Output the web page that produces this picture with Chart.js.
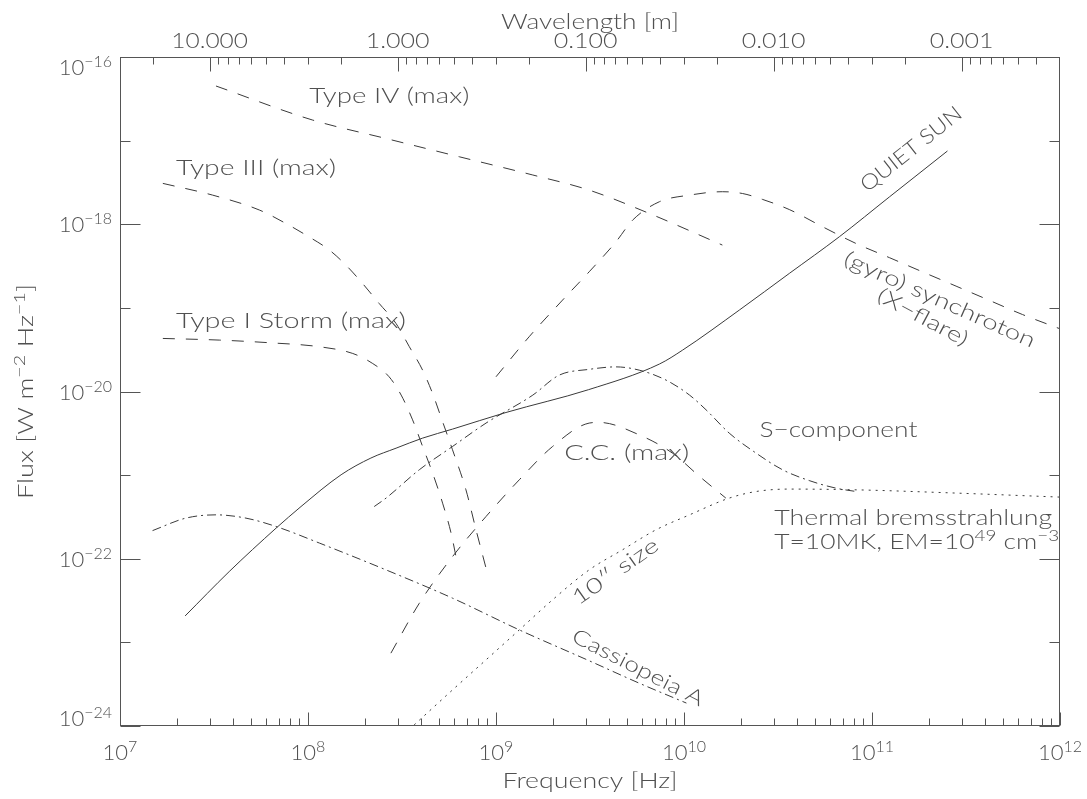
<!DOCTYPE html>
<html>
<head>
<meta charset="utf-8">
<title>Solar radio flux spectrum</title>
<script src="https://cdn.jsdelivr.net/npm/chart.js@4.4.1/dist/chart.umd.min.js"></script>
<style>
  html, body { margin: 0; padding: 0; background: #ffffff; }
  #wrap { width: 1087px; height: 799px; }
</style>
</head>
<body>
<div id="wrap"><canvas id="spectrum" width="1087" height="799"></canvas></div>
<script>
// ---- spectra: frequency [Hz] and flux density [W m^-2 Hz^-1] ----
const quietSunFreq = [2.22e7, 3.81e7, 6.76e7, 9.18e7, 1.50e8, 2.16e8, 2.94e8, 4.07e8, 5.87e8, 1.13e9, 3.10e9, 7.40e9, 9.84e9, 1.97e10, 3.63e10, 6.70e10, 1.24e11, 2.52e11];
const quietSunFlux = [2.07e-23, 7.03e-23, 2.32e-22, 4.21e-22, 1.01e-21, 1.60e-21, 2.10e-21, 2.77e-21, 3.55e-21, 5.61e-21, 1.05e-20, 2.13e-20, 3.13e-20, 9.42e-20, 2.58e-19, 7.08e-19, 2.13e-18, 7.52e-18];

const typeIVFreq = [3.24e7, 1.06e8, 2.60e8, 6.38e8, 1.57e9, 3.13e9, 6.52e9, 1.60e10];
const typeIVFlux = [4.50e-17, 1.76e-17, 1.06e-17, 6.41e-18, 3.88e-18, 2.56e-18, 1.35e-18, 5.64e-19];

const typeIIIFreq = [1.69e7, 3.11e7, 5.51e7, 7.64e7, 9.75e7, 1.30e8, 1.59e8, 1.95e8, 2.39e8, 2.94e8, 3.46e8, 4.07e8, 4.60e8, 5.20e8, 5.87e8, 6.92e8, 7.83e8, 8.85e8];
const typeIIIFlux = [3.08e-18, 2.23e-18, 1.48e-18, 1.02e-18, 7.43e-19, 4.91e-19, 3.25e-19, 1.96e-19, 1.13e-19, 6.50e-20, 3.43e-20, 1.80e-20, 9.46e-21, 4.35e-21, 2.01e-21, 6.67e-22, 2.22e-22, 7.73e-23];

const typeIFreq = [1.69e7, 3.37e7, 6.22e7, 1.15e8, 1.73e8, 2.21e8, 2.70e8, 3.13e8, 3.60e8, 4.07e8, 4.60e8, 5.20e8, 5.77e8, 6.25e8];
const typeIFlux = [4.31e-20, 4.12e-20, 3.83e-20, 3.43e-20, 2.85e-20, 2.16e-20, 1.50e-20, 9.06e-21, 4.58e-21, 2.20e-21, 1.06e-21, 4.62e-22, 2.02e-22, 8.45e-23];

const gyroFreq = [1.00e9, 1.50e9, 2.26e9, 3.13e9, 4.35e9, 5.33e9, 7.40e9, 1.07e10, 1.60e10, 2.05e10, 2.62e10, 3.63e10, 5.46e10, 8.22e10, 1.24e11, 1.86e11, 2.80e11, 4.21e11, 6.32e11, 1.00e12];
const gyroFlux = [1.50e-20, 4.51e-20, 1.24e-19, 2.70e-19, 6.18e-19, 1.12e-18, 1.86e-18, 2.23e-18, 2.45e-18, 2.33e-18, 1.98e-18, 1.50e-18, 9.33e-19, 5.89e-19, 3.98e-19, 2.69e-19, 1.82e-19, 1.23e-19, 8.32e-20, 5.62e-20];

const sComponentFreq = [2.25e8, 2.60e8, 3.91e8, 5.87e8, 8.85e8, 1.57e9, 2.17e9, 3.13e9, 4.35e9, 5.78e9, 8.02e9, 1.07e10, 1.31e10, 1.74e10, 2.42e10, 3.34e10, 4.63e10, 6.44e10, 8.22e10];
const sComponentFlux = [4.21e-22, 5.31e-22, 1.16e-21, 2.20e-21, 4.19e-21, 9.06e-21, 1.57e-20, 1.84e-20, 1.97e-20, 1.80e-20, 1.37e-20, 9.06e-21, 6.04e-21, 3.18e-21, 1.83e-21, 1.16e-21, 8.61e-22, 6.98e-22, 6.37e-22];

const thermalFreq = [3.67e8, 5.87e8, 8.85e8, 1.33e9, 2.00e9, 3.13e9, 4.71e9, 7.10e9, 1.07e10, 1.74e10, 2.42e10, 3.63e10, 8.22e10, 2.80e11, 1.00e12];
const thermalFlux = [1.03e-24, 2.70e-24, 6.18e-24, 1.41e-23, 3.23e-23, 7.36e-23, 1.28e-22, 2.22e-22, 3.35e-22, 5.31e-22, 6.37e-22, 6.81e-22, 6.67e-22, 6.10e-22, 5.46e-22];

const ccFreq = [2.76e8, 3.91e8, 5.87e8, 8.85e8, 1.33e9, 2.00e9, 3.13e9, 3.54e9, 5.78e9, 8.69e9, 1.21e10, 1.67e10];
const ccFlux = [7.43e-24, 2.94e-23, 1.06e-22, 3.20e-22, 8.79e-22, 2.20e-21, 4.19e-21, 4.27e-21, 3.03e-21, 1.83e-21, 9.64e-22, 5.31e-22];

const casAFreq = [1.49e7, 2.24e7, 3.24e7, 4.68e7, 6.76e7, 1.15e8, 2.60e8, 5.87e8, 1.33e9, 3.13e9, 5.78e9, 1.03e10];
const casAFlux = [2.17e-22, 3.06e-22, 3.35e-22, 3.06e-22, 2.43e-22, 1.54e-22, 7.36e-23, 3.38e-23, 1.41e-23, 6.03e-24, 3.25e-24, 1.88e-24];

// ---- axes ----
const SPEED_OF_LIGHT = 2.998e8;                 // m/s
const freqDecades = [7, 8, 9, 10, 11, 12];      // bottom axis, labelled 10^n Hz
const fluxDecades = [-24, -23, -22, -21, -20, -19, -18, -17, -16];
const fluxLabelled = [-24, -22, -20, -18, -16];
const wavelengthTickValues = [10, 1, 0.1, 0.01, 0.001];
const wavelengthTickLabels = ['10.000', '1.000', '0.100', '0.010', '0.001'];

// ---- styling ----
const FONT = '"Lato", "DejaVu Sans", sans-serif';
const TEXT_COLOR = '#505050';
const LINE_COLOR = '#3a3a3a';
const FRAME_COLOR = '#555555';
const DASH = [12, 11];
const DASH_DOT = [9, 4, 2, 4];
const DOTS = [2, 5];

function series(freq, flux) {
  return freq.map((f, i) => ({ x: f, y: flux[i] }));
}
function curve(label, freq, flux, dash) {
  return {
    label,
    data: series(freq, flux),
    showLine: true,
    borderColor: LINE_COLOR,
    borderWidth: 1,
    borderDash: dash,
    pointRadius: 0,
    pointHoverRadius: 0,
    fill: false,
    cubicInterpolationMode: 'monotone'
  };
}

// Annotations, placed in log10(frequency), log10(flux) coordinates
const curveLabels = [
  { parts: [['Type IV (max)', 0]], at: [8.007, -16.547], width: 160 },
  { parts: [['Type III (max)', 0]], at: [7.298, -17.414], width: 160 },
  { parts: [['Type I Storm (max)', 0]], at: [7.298, -19.238], width: 230 },
  { parts: [['QUIET SUN', 0]], at: [10.975, -17.623], width: 123, angle: -38.4 },
  { parts: [['(gyro) synchroton', 0]], at: [10.842, -18.473], width: 207, angle: 24 },
  { parts: [['(X\u2212flare)', 0]], at: [11.018, -18.903], width: 100, angle: 28 },
  { parts: [['S\u2212component', 0]], at: [10.401, -20.542], width: 158 },
  { parts: [['C.C. (max)', 0]], at: [9.363, -20.817], width: 125 },
  { parts: [['Thermal bremsstrahlung', 0]], at: [10.480, -21.594], width: 278 },
  { parts: [['T=10MK, EM=10', 0], ['49', 1], [' cm', 0], ['\u22123', 1]], at: [10.480, -21.888], width: 285 },
  { parts: [['10\u2033 size', 0]], at: [9.438, -22.563], width: 100, angle: -35 },
  { parts: [['Cassiopeia A', 0]], at: [9.395, -22.982], width: 145, angle: 27 }
];

function setFont(ctx, size) { ctx.font = '300 ' + size + 'px ' + FONT; }

// Draws a run of normal / superscript text; optional rotation and fitted width
function drawRich(ctx, parts, x, y, o) {
  const size = o.size || 21, supSize = o.supSize || 15, raise = o.raise || 8;
  ctx.save();
  ctx.translate(x, y);
  if (o.angle) ctx.rotate(o.angle * Math.PI / 180);
  let w = 0;
  const widths = parts.map(([t, s]) => {
    setFont(ctx, s ? supSize : size);
    const m = ctx.measureText(t).width;
    w += m;
    return m;
  });
  const sx = o.width ? o.width / w : (o.stretch || 1);
  const W = w * sx;
  const x0 = o.align === 'center' ? -W / 2 : o.align === 'right' ? -W : 0;
  ctx.translate(x0, 0);
  ctx.scale(sx, 1);
  ctx.fillStyle = o.color || TEXT_COLOR;
  ctx.textAlign = 'left';
  ctx.textBaseline = 'alphabetic';
  let cx = 0;
  parts.forEach(([t, s], i) => {
    setFont(ctx, s ? supSize : size);
    ctx.fillText(t, cx, s ? -raise : 0);
    cx += widths[i];
  });
  ctx.restore();
}

const framePlugin = {
  id: 'frameAndText',
  afterDatasetsDraw(chart) {
    const ctx = chart.ctx;
    const a = chart.chartArea;
    const xs = chart.scales.x, ys = chart.scales.y, ws = chart.scales.wavelength;
    ctx.save();
    ctx.strokeStyle = FRAME_COLOR;
    ctx.lineWidth = 1;
    ctx.setLineDash([]);
    const L = Math.round(a.left) + 0.5, R = Math.round(a.right) - 0.5;
    const T = Math.round(a.top) + 0.5, B = Math.round(a.bottom) - 0.5;
    ctx.strokeRect(L, T, R - L, B - T);

    ctx.beginPath();
    // frequency ticks (bottom), drawn inward
    for (let e = freqDecades[0]; e <= freqDecades[freqDecades.length - 1]; e++) {
      for (let m = 1; m <= 9; m++) {
        const v = m * Math.pow(10, e);
        if (v > Math.pow(10, freqDecades[freqDecades.length - 1])) break;
        const px = Math.round(xs.getPixelForValue(v)) + 0.5;
        const len = m === 1 ? 13 : 7;
        ctx.moveTo(px, B); ctx.lineTo(px, B - len);
      }
    }
    // wavelength ticks (top)
    const lamMin = SPEED_OF_LIGHT / Math.pow(10, freqDecades[freqDecades.length - 1]);
    const lamMax = SPEED_OF_LIGHT / Math.pow(10, freqDecades[0]);
    for (let e = -4; e <= 1; e++) {
      for (let m = 1; m <= 9; m++) {
        const lam = m * Math.pow(10, e);
        if (lam <= lamMin * 1.001 || lam >= lamMax * 0.999) continue;
        const px = Math.round(ws.getPixelForValue(lam)) + 0.5;
        const len = m === 1 ? 14 : 7;
        ctx.moveTo(px, T); ctx.lineTo(px, T + len);
      }
    }
    // flux ticks (left and right)
    fluxDecades.forEach(e => {
      const py = Math.round(ys.getPixelForValue(Math.pow(10, e))) + 0.5;
      const len = e % 2 === 0 ? 20 : 10;
      ctx.moveTo(L, py); ctx.lineTo(L + len, py);
      ctx.moveTo(R, py); ctx.lineTo(R - len, py);
    });
    ctx.stroke();
    ctx.restore();

    // tick labels
    freqDecades.forEach(e => {
      const px = xs.getPixelForValue(Math.pow(10, e));
      drawRich(ctx, [['10', 0], [String(e), 1]], px, 760, { size: 22, supSize: 16, raise: 8, align: 'center' });
    });
    fluxLabelled.forEach((e, i) => {
      let py = ys.getPixelForValue(Math.pow(10, e)) + 8;
      if (i === fluxLabelled.length - 1) py = a.top + 18;
      if (i === 0) py = a.bottom;
      drawRich(ctx, [['10', 0], ['\u2212' + Math.abs(e), 1]], a.left - 8, py, { size: 22, supSize: 16, raise: 8, align: 'right' });
    });
    wavelengthTickValues.forEach((lam, i) => {
      const px = ws.getPixelForValue(lam);
      drawRich(ctx, [[wavelengthTickLabels[i], 0]], px, 48, { size: 22, align: 'center', width: 76.6 * wavelengthTickLabels[i].length / 6 + (wavelengthTickLabels[i].length === 5 ? 0 : 0) });
    });

    // axis titles
    const cx = (a.left + a.right) / 2;
    drawRich(ctx, [['Wavelength [m]', 0]], cx, 29, { size: 22, align: 'center', width: 178 });
    drawRich(ctx, [['Frequency [Hz]', 0]], cx, 788, { size: 22, align: 'center', width: 175 });
    drawRich(ctx, [['Flux [W m', 0], ['\u22122', 1], [' Hz', 0], ['\u22121', 1], [']', 0]],
      33, (a.top + a.bottom) / 2, { size: 22, supSize: 16, raise: 8, align: 'center', width: 215, angle: -90 });

    // curve annotations
    curveLabels.forEach(lb => {
      const px = xs.getPixelForValue(Math.pow(10, lb.at[0]));
      const py = ys.getPixelForValue(Math.pow(10, lb.at[1]));
      drawRich(ctx, lb.parts, px, py, { size: 21, supSize: 15, raise: 8, width: lb.width, angle: lb.angle || 0 });
    });
  }
};

new Chart(document.getElementById('spectrum'), {
  type: 'scatter',
  data: {
    datasets: [
      curve('Quiet Sun', quietSunFreq, quietSunFlux, []),
      curve('Type IV (max)', typeIVFreq, typeIVFlux, DASH),
      curve('Type III (max)', typeIIIFreq, typeIIIFlux, DASH),
      curve('Type I Storm (max)', typeIFreq, typeIFlux, DASH),
      curve('(gyro) synchrotron', gyroFreq, gyroFlux, DASH),
      curve('C.C. (max)', ccFreq, ccFlux, DASH),
      curve('S-component', sComponentFreq, sComponentFlux, DASH_DOT),
      curve('Cassiopeia A', casAFreq, casAFlux, DASH_DOT),
      curve('Thermal bremsstrahlung', thermalFreq, thermalFlux, DOTS)
    ]
  },
  options: {
    responsive: false,
    animation: false,
    devicePixelRatio: 1,
    events: [],
    layout: { padding: { left: 120, right: 27, top: 57, bottom: 73 } },
    plugins: { legend: { display: false }, tooltip: { enabled: false }, title: { display: false } },
    scales: {
      x: { type: 'logarithmic', min: Math.pow(10, freqDecades[0]), max: Math.pow(10, freqDecades[freqDecades.length - 1]), display: false },
      y: { type: 'logarithmic', min: Math.pow(10, fluxDecades[0]), max: Math.pow(10, fluxDecades[fluxDecades.length - 1]), display: false },
      wavelength: {
        type: 'logarithmic', axis: 'x', position: 'top', reverse: true, display: false,
        min: SPEED_OF_LIGHT / Math.pow(10, freqDecades[freqDecades.length - 1]),
        max: SPEED_OF_LIGHT / Math.pow(10, freqDecades[0])
      }
    }
  },
  plugins: [framePlugin]
});
</script>
</body>
</html>
